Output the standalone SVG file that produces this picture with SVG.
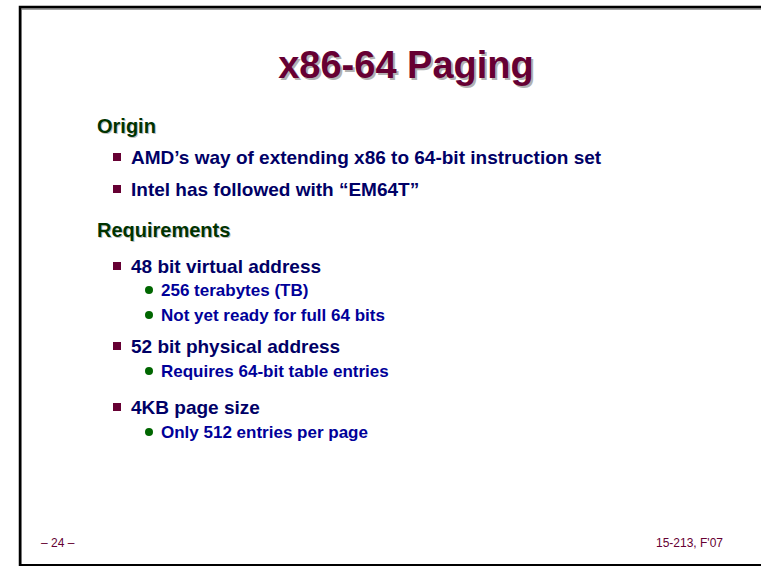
<svg xmlns="http://www.w3.org/2000/svg" width="761" height="566" viewBox="0 0 761 566">
  <style>
    text { font-family: "Liberation Sans", Arial, sans-serif; font-weight: bold; }
    .title { font-size: 38px; fill: #660033; }
    .title-sh { font-size: 38px; fill: #b2b2b2; }
    .head { font-size: 20px; fill: #003300; }
    .head-sh { font-size: 20px; fill: #c0c0c0; }
    .l1 { font-size: 19px; fill: #000066; }
    .l2 { font-size: 17px; fill: #000099; }
    .foot { font-size: 12px; font-weight: normal; fill: #660033; }
    .sq { fill: #660033; }
    .dot { fill: #006600; }
  </style>
  <rect width="761" height="566" fill="#ffffff"/>
  <!-- slide frame with soft shadow -->
  <path d="M21 566 V9 H761" fill="none" stroke="#a0a0a0" stroke-width="2"/>
  <path d="M20 566 V7 H761" fill="none" stroke="#000000" stroke-width="2.5"/>
  <line x1="20" y1="565" x2="761" y2="565" stroke="#000000" stroke-width="2"/>

  <g id="title">
    <text class="title-sh" x="408" y="80" text-anchor="middle">x86-64 Paging</text>
    <text class="title" x="406" y="78" text-anchor="middle">x86-64 Paging</text>
  </g>

  <g id="origin">
    <text class="head-sh" x="98" y="134">Origin</text>
    <text class="head" x="97" y="133">Origin</text>
    <rect class="sq" x="113" y="153" width="8" height="8"/>
    <text class="l1" x="131" y="164">AMD’s way of extending x86 to 64-bit instruction set</text>
    <rect class="sq" x="113" y="185" width="8" height="8"/>
    <text class="l1" x="131" y="196">Intel has followed with “EM64T”</text>
  </g>

  <g id="requirements">
    <text class="head-sh" x="98" y="238">Requirements</text>
    <text class="head" x="97" y="237">Requirements</text>
    <rect class="sq" x="113" y="262" width="8" height="8"/>
    <text class="l1" x="131" y="273">48 bit virtual address</text>
    <circle class="dot" cx="149" cy="290" r="4"/>
    <text class="l2" x="161" y="296">256 terabytes (TB)</text>
    <circle class="dot" cx="149" cy="315" r="4"/>
    <text class="l2" x="161" y="321">Not yet ready for full 64 bits</text>
    <rect class="sq" x="113" y="342" width="8" height="8"/>
    <text class="l1" x="131" y="353">52 bit physical address</text>
    <circle class="dot" cx="149" cy="371" r="4"/>
    <text class="l2" x="161" y="377">Requires 64-bit table entries</text>
    <rect class="sq" x="113" y="403" width="8" height="8"/>
    <text class="l1" x="131" y="414">4KB page size</text>
    <circle class="dot" cx="149" cy="432" r="4"/>
    <text class="l2" x="161" y="438">Only 512 entries per page</text>
  </g>

  <g id="footer">
    <text class="foot" x="41" y="547">– 24 –</text>
    <text class="foot" x="723" y="547" text-anchor="end">15-213, F'07</text>
  </g>
</svg>
